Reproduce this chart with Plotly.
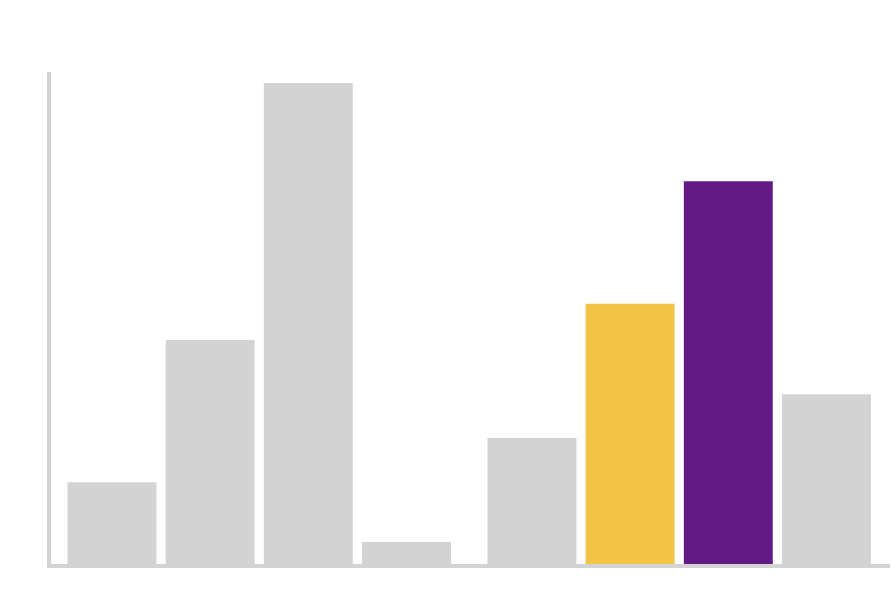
import plotly.graph_objects as go

groups = [0, 0, 0, 0, 1, 1, 1, 1]
items = [0, 1, 2, 3, 0, 1, 2, 3]
values = [17.0, 46.6, 100.0, 4.6, 26.2, 54.1, 79.6, 35.3]
colors = ["#d3d3d3", "#d3d3d3", "#d3d3d3", "#d3d3d3",
          "#d3d3d3", "#f2c344", "#631a84", "#d3d3d3"]

group_gap = 0.278
xpos = [g * (4 + group_gap) + i for g, i in zip(groups, items)]

fig = go.Figure(go.Bar(x=xpos, y=values, marker=dict(color=colors, line=dict(width=0)),
                       width=0.906, hoverinfo="skip"))
fig.update_layout(
    width=892, height=602,
    margin=dict(l=51, r=2, t=72, b=38),
    paper_bgcolor="white", plot_bgcolor="white",
    showlegend=False,
    xaxis=dict(range=[-0.621, xpos[-1] + 0.647], showgrid=False, zeroline=False,
               showticklabels=False, ticks="", showline=True, linecolor="#d3d3d3", linewidth=4),
    yaxis=dict(range=[0, 102.3], showgrid=False, zeroline=False,
               showticklabels=False, ticks="", showline=True, linecolor="#d3d3d3", linewidth=4),
)
fig.write_html("out.html", config={"displayModeBar": False},
               post_script="document.body.style.margin='0';document.body.style.overflow='hidden';")
